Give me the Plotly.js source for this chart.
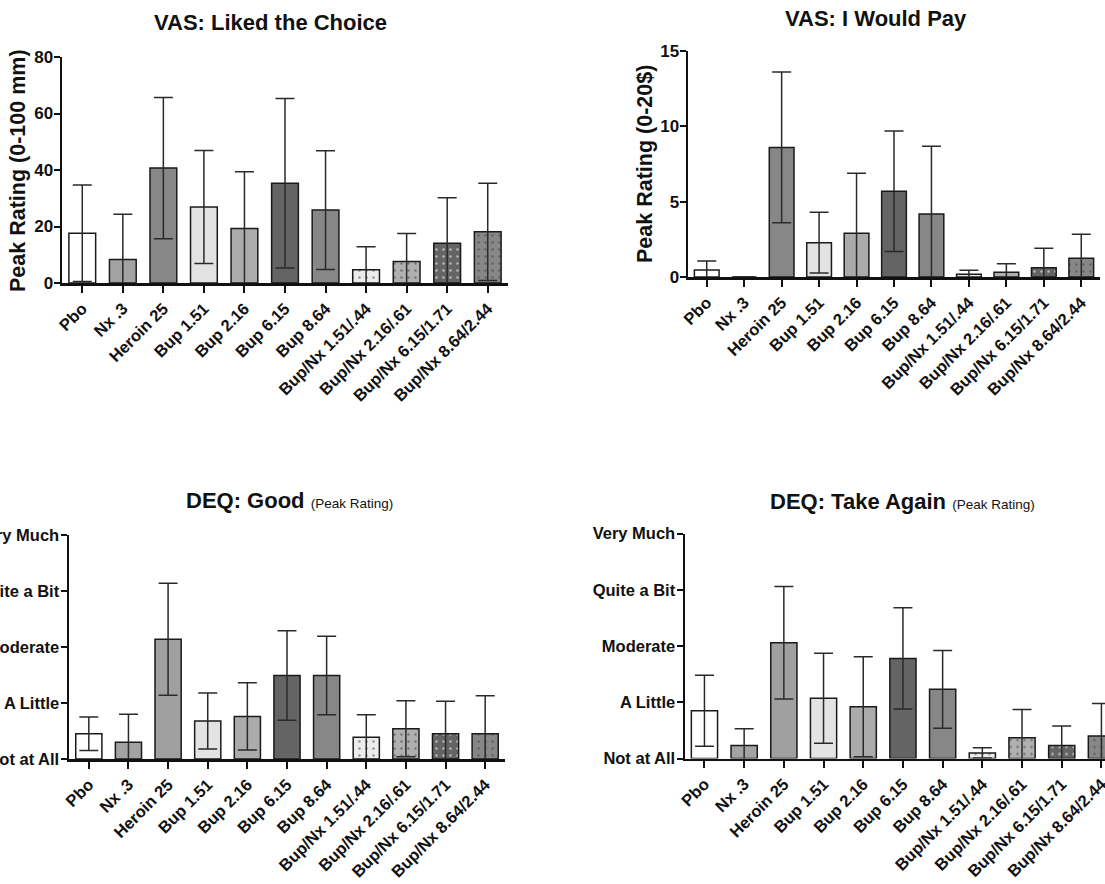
<!DOCTYPE html>
<html>
<head>
<meta charset="utf-8">
<script src="https://cdn.plot.ly/plotly-3.0.1.min.js"></script>
<style>html,body{margin:0;padding:0;background:#fff;}#chart{width:1105px;height:884px;}</style>
</head>
<body>
<div id="chart"></div>
<script>
// ---- data ----
const categories = ['Pbo','Nx .3','Heroin 25','Bup 1.51','Bup 2.16','Bup 6.15','Bup 8.64','Bup/Nx 1.51/.44','Bup/Nx 2.16/.61','Bup/Nx 6.15/1.71','Bup/Nx 8.64/2.44'];
const likedMean = [17.6, 8.3, 40.7, 26.9, 19.3, 35.3, 25.8, 4.7, 7.6, 14.1, 18.1];
const likedSD   = [17.1, 16.0, 25.0, 20.0, 20.1, 30.0, 21.0, 8.1, 9.9, 16.1, 17.2];
const payMean = [0.46, 0, 8.6, 2.28, 2.9, 5.69, 4.18, 0.18, 0.31, 0.62, 1.24];
const paySD   = [0.6, 0, 5.0, 2.02, 3.98, 4.0, 4.5, 0.27, 0.57, 1.28, 1.6];
const goodMean = [0.45, 0.30, 2.14, 0.68, 0.76, 1.49, 1.49, 0.39, 0.54, 0.45, 0.45];
const goodSD   = [0.30, 0.50, 1.00, 0.50, 0.60, 0.80, 0.70, 0.40, 0.50, 0.58, 0.68];
const againMean = [0.85, 0.23, 2.06, 1.07, 0.92, 1.78, 1.23, 0.10, 0.37, 0.23, 0.40];
const againSD   = [0.63, 0.30, 1.00, 0.80, 0.89, 0.90, 0.69, 0.09, 0.50, 0.35, 0.58];
const vasTicks = [0, 20, 40, 60, 80];
const payTicks = [0, 5, 10, 15];
const deqTickVals = [0, 1, 2, 3, 4];
const deqTickText = ['Not at All', 'A Little', 'Moderate', 'Quite a Bit', 'Very Much'];

// ---- styles ----
const FONT = 'Liberation Sans, Arial, Helvetica, sans-serif';
const vasFill = ['#ffffff','#a3a3a3','#878787','#e3e3e3','#ababab','#646464','#878787','#ececec','#b0b0b0','#646464','#878787'];
const deqFill = ['#ffffff','#a3a3a3','#a0a0a0','#e3e3e3','#ababab','#646464','#878787','#ececec','#b0b0b0','#646464','#878787'];
const patShape = categories.map(c => c.indexOf('/') >= 0 ? '.' : '');

function barTrace(y, sd, fill, xa, ya) {
  return {
    type: 'bar', x: categories, y: y, xaxis: xa, yaxis: ya,
    width: 0.66,
    marker: {
      color: fill,
      line: {color: '#1a1a1a', width: 1.5},
      pattern: {shape: patShape, fillmode: 'overlay', fgcolor: '#333333', fgopacity: 0.55, size: 7, solidity: 0.1}
    },
    error_y: {type: 'data', array: sd, visible: true, color: '#2a2a2a', thickness: 1.5, width: 9.5},
    hoverinfo: 'none', showlegend: false
  };
}

const data = [
  barTrace(likedMean, likedSD, vasFill, 'x', 'y'),
  barTrace(payMean, paySD, vasFill, 'x2', 'y2'),
  barTrace(goodMean, goodSD, deqFill, 'x3', 'y3'),
  barTrace(againMean, againSD, deqFill, 'x4', 'y4')
];

const W = 1105, H = 884;
function xa(l, r, range, anchor) {
  return {
    domain: [l / W, r / W], anchor: anchor, type: 'category', range: range,
    showline: true, linecolor: '#111', linewidth: 2.5, mirror: false,
    ticks: 'outside', ticklen: 7, tickwidth: 2, tickcolor: '#111',
    tickangle: -45, tickfont: {family: FONT, size: 16.5, color: '#111', weight: 'bold'},
    showgrid: false, zeroline: false, fixedrange: true
  };
}
function ya(top, bottom, range, anchor, tv, tt) {
  const a = {
    domain: [1 - bottom / H, 1 - top / H], anchor: anchor, range: range,
    tickmode: 'array', tickvals: tv,
    showline: true, linecolor: '#111', linewidth: 2.5,
    ticks: 'outside', ticklen: 6, tickwidth: 2, tickcolor: '#111',
    tickfont: {family: FONT, size: 17, color: '#111', weight: 'bold'},
    showgrid: false, zeroline: false, fixedrange: true, ticklabelstandoff: -3
  };
  if (tt) { a.ticktext = tt; a.tickfont.size = 16.5; a.ticklabelstandoff = -2; }
  return a;
}

const layout = {
  width: W, height: H,
  margin: {l: 0, r: 0, t: 0, b: 0},
  paper_bgcolor: '#ffffff', plot_bgcolor: 'rgba(0,0,0,0)',
  showlegend: false, bargap: 0.34,
  font: {family: FONT, color: '#111'},
  xaxis:  xa(62, 508, [-0.5, 10.5], 'y'),
  yaxis:  ya(57, 283, [0, 80], 'x', vasTicks),
  xaxis2: xa(688, 1100, [-0.5, 10.5], 'y2'),
  yaxis2: ya(51, 277, [0, 15], 'x2', payTicks),
  xaxis3: xa(69, 505, [-0.5, 10.5], 'y3'),
  yaxis3: ya(535, 759, [0, 4], 'x3', deqTickVals, deqTickText),
  xaxis4: xa(685, 1105, [-0.49, 10.09], 'y4'),
  yaxis4: ya(533.5, 758.5, [0, 4], 'x4', deqTickVals, deqTickText),
  annotations: [
    {text: '<b>VAS: Liked the Choice</b>', x: 270 / W, y: 1 - 22 / H, xref: 'paper', yref: 'paper', showarrow: false, xanchor: 'center', yanchor: 'middle', font: {family: FONT, size: 22, color: '#111'}},
    {text: '<b>VAS: I Would Pay</b>', x: 876 / W, y: 1 - 18 / H, xref: 'paper', yref: 'paper', showarrow: false, xanchor: 'center', yanchor: 'middle', font: {family: FONT, size: 22, color: '#111'}},
    {text: '<b>DEQ: Good</b> <span style="font-size:13.5px;font-weight:normal">(Peak Rating)</span>', x: 289 / W, y: 1 - 500 / H, xref: 'paper', yref: 'paper', showarrow: false, xanchor: 'center', yanchor: 'middle', font: {family: FONT, size: 22, color: '#111'}},
    {text: '<b>DEQ: Take Again</b> <span style="font-size:13.5px;font-weight:normal">(Peak Rating)</span>', x: 902 / W, y: 1 - 501 / H, xref: 'paper', yref: 'paper', showarrow: false, xanchor: 'center', yanchor: 'middle', font: {family: FONT, size: 22, color: '#111'}},
    {text: '<b>Peak Rating (0-100 mm)</b>', x: 18 / W, y: 1 - 171 / H, xref: 'paper', yref: 'paper', showarrow: false, textangle: -90, xanchor: 'center', yanchor: 'middle', font: {family: FONT, size: 21.5, color: '#111'}},
    {text: '<b>Peak Rating (0-20$)</b>', x: 645 / W, y: 1 - 164 / H, xref: 'paper', yref: 'paper', showarrow: false, textangle: -90, xanchor: 'center', yanchor: 'middle', font: {family: FONT, size: 21.5, color: '#111'}}
  ]
};

Plotly.newPlot('chart', data, layout, {displayModeBar: false, staticPlot: true});
</script>
</body>
</html>
